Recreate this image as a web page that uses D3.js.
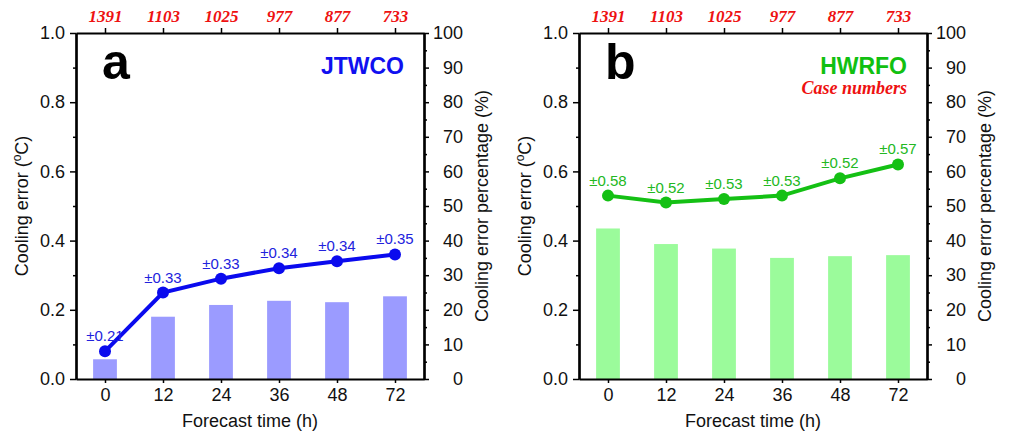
<!DOCTYPE html>
<html>
<head>
<meta charset="utf-8">
<script src="https://cdn.jsdelivr.net/npm/d3@7"></script>
<style>
  body { margin: 0; background: #fff; }
  svg { display: block; font-family: "Liberation Sans", Arial, sans-serif; }
</style>
</head>
<body>
<svg id="chart" width="1010" height="435"></svg>
<script>
// dados
const hours = ["0", "12", "24", "36", "48", "72"];
const caseNumbers = [1391, 1103, 1025, 977, 877, 733];

const jtwcoError = [0.08, 0.25, 0.29, 0.32, 0.34, 0.36];
const jtwcoStd = [0.21, 0.33, 0.33, 0.34, 0.34, 0.35];
const jtwcoPercent = [5.7, 18.0, 21.4, 22.6, 22.2, 23.9];

const hwrfoError = [0.53, 0.51, 0.52, 0.53, 0.58, 0.62];
const hwrfoStd = [0.58, 0.52, 0.53, 0.53, 0.52, 0.57];
const hwrfoPercent = [43.5, 39.0, 37.7, 35.0, 35.5, 35.8];

const svg = d3.select("#chart");
const top_y = 33, bottom_y = 379;
const w = 348, h = bottom_y - top_y;

function drawPanel(left, opts) {
    const g = svg.append("g").attr("transform", `translate(${left},${top_y})`);

    const x = d3.scalePoint().domain(hours).range([0, w]).padding(0.5);
    const y = d3.scaleLinear().domain([0, 1]).range([h, 0]);
    const yPct = d3.scaleLinear().domain([0, 100]).range([h, 0]);
    const barW = x.step() * 0.41;

    // barras (percentual)
    g.append("g").selectAll("rect")
        .data(opts.percent)
        .join("rect")
        .attr("x", (d, i) => x(hours[i]) - barW / 2)
        .attr("y", d => yPct(d))
        .attr("width", barW)
        .attr("height", d => h - yPct(d))
        .attr("fill", opts.barColor);

    // linha do erro
    const line = d3.line().x((d, i) => x(hours[i])).y(d => y(d));
    g.append("path")
        .datum(opts.error)
        .attr("d", line)
        .attr("fill", "none")
        .attr("stroke", opts.lineColor)
        .attr("stroke-width", 4);

    g.append("g").selectAll("circle")
        .data(opts.error)
        .join("circle")
        .attr("cx", (d, i) => x(hours[i]))
        .attr("cy", d => y(d))
        .attr("r", 6)
        .attr("fill", opts.lineColor);

    g.append("g").selectAll("text")
        .data(opts.std)
        .join("text")
        .attr("x", (d, i) => x(hours[i]))
        .attr("y", (d, i) => y(opts.error[i]) - 10)
        .attr("text-anchor", "middle")
        .attr("font-size", 15)
        .attr("fill", opts.labelColor)
        .text(d => "±" + d.toFixed(2));

    // eixos
    const leftAxis = g.append("g")
        .call(d3.axisLeft(y).tickValues([0, 0.2, 0.4, 0.6, 0.8, 1.0]).tickFormat(d3.format(".1f")).tickSize(6).tickPadding(5).tickSizeOuter(0));
    g.append("g")
        .call(d3.axisLeft(y).tickValues([0.1, 0.3, 0.5, 0.7, 0.9]).tickFormat("").tickSize(3).tickSizeOuter(0));

    const rightAxis = g.append("g").attr("transform", `translate(${w},0)`)
        .call(d3.axisRight(yPct).tickValues(d3.range(0, 101, 10)).tickSize(5).tickSizeOuter(0));
    rightAxis.selectAll("text").attr("text-anchor", "end").attr("x", 39);
    g.append("g").attr("transform", `translate(${w},0)`)
        .call(d3.axisRight(yPct).tickValues(d3.range(5, 100, 10)).tickFormat("").tickSize(3).tickSizeOuter(0));

    const bottomAxis = g.append("g").attr("transform", `translate(0,${h})`)
        .call(d3.axisBottom(x).tickSize(4).tickPadding(5).tickSizeOuter(0));

    const topAxis = g.append("g")
        .call(d3.axisTop(x).tickSize(5).tickPadding(6).tickSizeOuter(0)
            .tickFormat((d, i) => caseNumbers[i]));
    topAxis.selectAll("text")
        .attr("fill", "#ee1111")
        .attr("font-family", "'Liberation Serif', 'Times New Roman', serif")
        .attr("font-style", "italic")
        .attr("font-weight", "bold")
        .attr("font-size", 17);

    g.selectAll(".domain").attr("stroke-width", 2.2);
    g.selectAll(".tick line").attr("stroke-width", 1.5);
    [leftAxis, rightAxis, bottomAxis].forEach(a => a.selectAll("text")
        .attr("font-size", 18)
        .attr("font-family", "'Liberation Sans', Arial, sans-serif")
        .attr("fill", "#111"));

    // títulos dos eixos
    const yTitle = g.append("text")
        .attr("transform", `translate(-48,${h / 2}) rotate(-90)`)
        .attr("text-anchor", "middle")
        .attr("font-size", 18)
        .attr("fill", "#111");
    yTitle.append("tspan").text("Cooling error (");
    yTitle.append("tspan").attr("font-size", 12).attr("dy", -7).text("o");
    yTitle.append("tspan").attr("dy", 7).text("C)");

    g.append("text")
        .attr("transform", `translate(${w + 64},${h / 2}) rotate(-90)`)
        .attr("text-anchor", "middle")
        .attr("font-size", 18)
        .attr("fill", "#111")
        .text("Cooling error percentage (%)");

    g.append("text")
        .attr("x", w / 2)
        .attr("y", h + 48)
        .attr("text-anchor", "middle")
        .attr("font-size", 18)
        .attr("fill", "#111")
        .text("Forecast time (h)");

    // letra do painel e nome do modelo
    g.append("text")
        .attr("x", 26)
        .attr("y", 46)
        .attr("font-size", 50)
        .attr("font-weight", "bold")
        .attr("fill", "#000")
        .text(opts.letter);

    g.append("text")
        .attr("x", w - 20)
        .attr("y", 41)
        .attr("text-anchor", "end")
        .attr("font-size", 23)
        .attr("font-weight", "bold")
        .attr("fill", opts.nameColor)
        .text(opts.name);

    if (opts.showCases) {
        g.append("text")
            .attr("x", w - 20)
            .attr("y", 61)
            .attr("text-anchor", "end")
            .attr("font-size", 18)
            .attr("font-family", "'Liberation Serif', 'Times New Roman', serif")
            .attr("font-style", "italic")
            .attr("font-weight", "bold")
            .attr("fill", "#ee1111")
            .text("Case numbers");
    }
}

drawPanel(76, {
    letter: "a", name: "JTWCO", nameColor: "#1010f0",
    error: jtwcoError, std: jtwcoStd, percent: jtwcoPercent,
    lineColor: "#0a0aee", labelColor: "#2222dd", barColor: "#9b9bff",
    showCases: false
});

drawPanel(579, {
    letter: "b", name: "HWRFO", nameColor: "#11c011",
    error: hwrfoError, std: hwrfoStd, percent: hwrfoPercent,
    lineColor: "#14c014", labelColor: "#22b822", barColor: "#9bfb9b",
    showCases: true
});
</script>
</body>
</html>
